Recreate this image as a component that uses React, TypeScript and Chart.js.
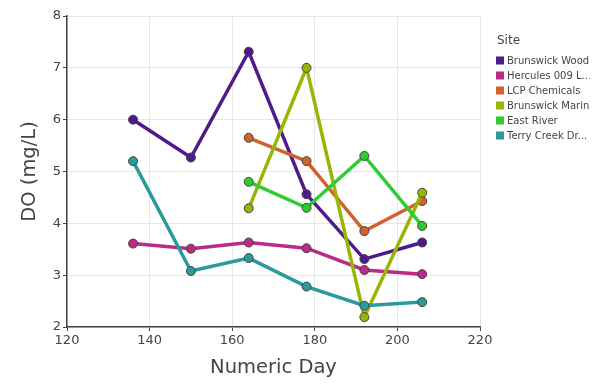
import React, { useEffect, useRef } from "react";
import { Chart, registerables } from "chart.js";

Chart.register(...registerables);

const days = [136, 150, 164, 178, 192, 206];
const siteNames = [
  "Brunswick Wood",
  "Hercules 009 L...",
  "LCP Chemicals",
  "Brunswick Marina",
  "East River",
  "Terry Creek Dr...",
];
const siteColors = ["#4f1a8c", "#bb2a86", "#d2622c", "#98b606", "#2ecc2e", "#2a9a9a"];

const brunswickWood = [6.0, 5.27, 7.31, 4.56, 3.31, 3.63];
const hercules = [3.61, 3.51, 3.63, 3.52, 3.1, 3.02];
const lcpChemicals = [null, null, 5.65, 5.2, 3.85, 4.43];
const brunswickMarina = [null, null, 4.29, 7.0, 2.19, 4.59];
const eastRiver = [null, null, 4.8, 4.3, 5.3, 3.95];
const terryCreek = [5.2, 3.08, 3.33, 2.78, 2.41, 2.48];

const seriesValues = [brunswickWood, hercules, lcpChemicals, brunswickMarina, eastRiver, terryCreek];

const xTicks = [120, 140, 160, 180, 200, 220];
const yTicks = [2, 3, 4, 5, 6, 7, 8];

const FONT = "'DejaVu Sans', sans-serif";
const TEXT = "#444";

const legendPlugin = {
  id: "siteLegend",
  afterDraw(chart: any) {
    const ctx = chart.ctx;
    const x0 = chart.chartArea.right + 16;
    ctx.save();
    ctx.fillStyle = TEXT;
    ctx.textBaseline = "middle";
    ctx.textAlign = "left";
    ctx.font = `12px ${FONT}`;
    ctx.fillText("Site", x0 + 1, 41);
    ctx.beginPath();
    ctx.rect(x0 - 2, 0, 589.5 - (x0 - 2), chart.height);
    ctx.clip();
    ctx.font = `10px ${FONT}`;
    siteNames.forEach((name, i) => {
      const y = 60.5 + i * 15;
      ctx.fillStyle = siteColors[i];
      ctx.fillRect(x0, y - 4, 8, 8);
      ctx.fillStyle = TEXT;
      ctx.fillText(name, x0 + 11, y + 0.5);
    });
    ctx.restore();
  },
};

export default function App() {
  const ref = useRef<HTMLCanvasElement | null>(null);
  useEffect(() => {
    document.body.style.margin = "0";
    const canvas = ref.current;
    if (!canvas) return;
    const n = siteNames.length;
    const datasets = siteNames.map((name, i) => ({
      label: name,
      data: days
        .map((d, j) => ({ x: d, y: seriesValues[i][j] }))
        .filter((p) => p.y !== null),
      borderColor: siteColors[i],
      backgroundColor: siteColors[i],
      pointBackgroundColor: siteColors[i],
      pointBorderColor: "#444",
      pointBorderWidth: 1,
      pointRadius: 4.5,
      borderWidth: 3.5,
      tension: 0,
      order: n - i,
    }));
    const chart = new Chart(canvas, {
      type: "line",
      data: { datasets: datasets as any },
      options: {
        animation: false,
        responsive: false,
        devicePixelRatio: 1,
        layout: { padding: { top: 16, right: 125, left: 0, bottom: 0 } },
        plugins: { legend: { display: false }, tooltip: { enabled: false } },
        scales: {
          x: {
            type: "linear",
            min: 120,
            max: 220,
            afterBuildTicks: (s: any) => {
              s.ticks = xTicks.map((v) => ({ value: v }));
            },
            afterFit: (s: any) => {
              s.height = 62;
            },
            grid: { color: "#e6e6e6", tickColor: "#444", tickLength: 4, lineWidth: 1 },
            border: { color: "#444", width: 1.5 },
            ticks: { color: TEXT, font: { family: FONT, size: 13 }, padding: 2, maxRotation: 0 },
            title: {
              display: true,
              text: "Numeric Day",
              color: TEXT,
              font: { family: FONT, size: 19.5 },
              padding: { top: 0, bottom: 9 },
            },
          },
          y: {
            type: "linear",
            min: 2,
            max: 8,
            afterBuildTicks: (s: any) => {
              s.ticks = yTicks.map((v) => ({ value: v }));
            },
            afterFit: (s: any) => {
              s.width = 67;
            },
            grid: { color: "#e6e6e6", tickColor: "#444", tickLength: 4, lineWidth: 1 },
            border: { color: "#444", width: 1.5 },
            ticks: { color: TEXT, font: { family: FONT, size: 13 }, padding: 2 },
            title: {
              display: true,
              text: "DO (mg/L)",
              color: TEXT,
              font: { family: FONT, size: 19.5 },
              padding: { top: 18, bottom: 0 },
            },
          },
        },
      },
      plugins: [legendPlugin],
    });
    return () => chart.destroy();
  }, []);
  return (
    <div style={{ width: 605, height: 389 }}>
      <canvas ref={ref} width={605} height={389} />
    </div>
  );
}
